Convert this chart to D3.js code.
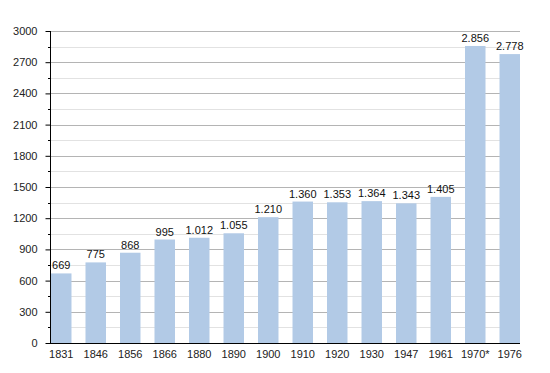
<!DOCTYPE html>
<html>
<head>
<meta charset="utf-8">
<script src="https://cdn.jsdelivr.net/npm/d3@7"></script>
<style>
  body { margin: 0; background: #fff; }
  svg { display: block; }
</style>
</head>
<body>
<svg width="550" height="373"></svg>
<script>
var years = ['1831', '1846', '1856', '1866', '1880', '1890', '1900', '1910', '1920', '1930', '1947', '1961', '1970*', '1976'];
var population = [669, 775, 868, 995, 1012, 1055, 1210, 1360, 1353, 1364, 1343, 1405, 2856, 2778];
var yTicks = [0, 300, 600, 900, 1200, 1500, 1800, 2100, 2400, 2700, 3000];

const svg = d3.select('svg');
const plotLeft = 50, plotRight = 520, plotTop = 31, plotBottom = 343;

const x = d3.scaleBand().domain(years).range([plotLeft + 1, plotRight]).paddingInner(0.406).paddingOuter(0);
const y = d3.scaleLinear().domain([0, 3000]).range([plotBottom, plotTop]);

// minor grid (every 150) then major grid
const minor = d3.range(150, 3000, 300);
svg.append('g').selectAll('line').data(minor).join('line')
  .attr('x1', plotLeft).attr('x2', plotRight)
  .attr('y1', d => Math.round(y(d)) + 0.5).attr('y2', d => Math.round(y(d)) + 0.5)
  .attr('stroke', '#e2e2e2');
svg.append('g').selectAll('line').data(yTicks.slice(1)).join('line')
  .attr('x1', plotLeft).attr('x2', plotRight)
  .attr('y1', d => Math.round(y(d)) + 0.5).attr('y2', d => Math.round(y(d)) + 0.5)
  .attr('stroke', '#b4b4b4');

// bars
svg.append('g').selectAll('rect').data(population).join('rect')
  .attr('x', (d, i) => x(years[i]))
  .attr('width', x.bandwidth())
  .attr('y', d => y(d))
  .attr('height', d => plotBottom - y(d))
  .attr('fill', '#b2cae6');

// value labels
svg.append('g')
  .attr('font-family', 'Liberation Sans, Arial, sans-serif')
  .attr('font-size', 11)
  .attr('fill', '#111')
  .attr('text-anchor', 'middle')
  .selectAll('text').data(population).join('text')
  .attr('x', (d, i) => x(years[i]) + x.bandwidth() / 2)
  .attr('y', d => y(d) - 4)
  .text(d => d >= 1000 ? d3.format(',')(d).replace(',', '.') : d);

// y axis
const yAxis = d3.axisLeft(y).tickValues(yTicks).tickSize(5).tickPadding(8).tickFormat(d3.format('d'));
const ya = svg.append('g').attr('transform', `translate(${plotLeft + 0.5},0)`).call(yAxis);
ya.select('.domain').attr('d', `M0,${plotTop}V${plotBottom}`).attr('stroke', '#000');
ya.selectAll('.tick line').attr('stroke', '#000');
ya.selectAll('text').attr('font-family', 'Liberation Sans, Arial, sans-serif').attr('font-size', 11).attr('fill', '#222');
ya.append('g').selectAll('line').data(minor).join('line')
  .attr('x1', -2.5).attr('x2', 0)
  .attr('y1', d => Math.round(y(d)) + 0.5).attr('y2', d => Math.round(y(d)) + 0.5)
  .attr('stroke', '#000');

// x axis
const xAxis = d3.axisBottom(x).tickSize(0).tickPadding(7);
const xa = svg.append('g').attr('transform', `translate(0,${plotBottom + 0.5})`).call(xAxis);
xa.select('.domain').attr('d', `M${plotLeft},0H${plotRight}`).attr('stroke', '#000');
xa.selectAll('text').attr('font-family', 'Liberation Sans, Arial, sans-serif').attr('font-size', 11).attr('fill', '#222');
</script>
</body>
</html>
